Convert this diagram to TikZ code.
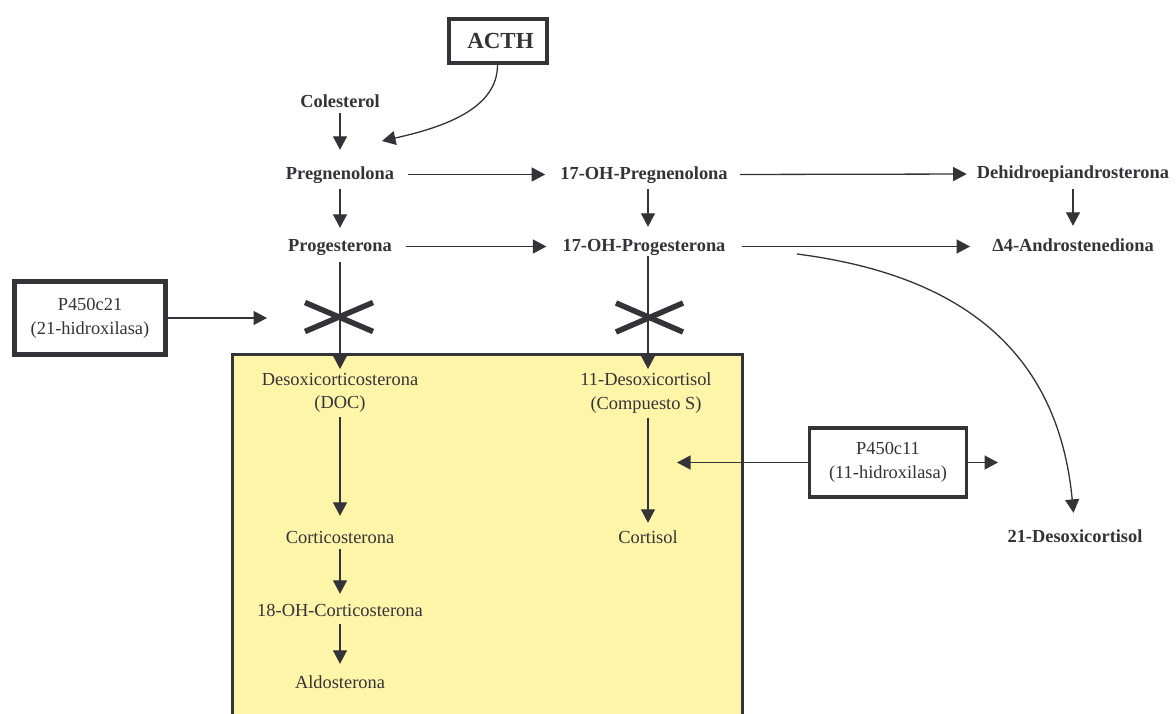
\documentclass[tikz,border=0pt]{standalone}
\usepackage{fontspec}
\setmainfont{Liberation Serif}
\usetikzlibrary{arrows.meta}
\definecolor{ink}{HTML}{333338}
\definecolor{pale}{HTML}{FFF5A8}

\begin{document}
\begin{tikzpicture}[x=1pt,y=-1pt,
  every node/.style={text=ink},
  lbl/.style={inner sep=0pt, text height=13pt, text depth=4pt, anchor=base,
    font=\fontsize{18.4}{23.5}\selectfont},
  blbl/.style={lbl, font=\fontsize{18.4}{23.5}\selectfont\bfseries},
  twoline/.style={inner sep=0pt, align=center, anchor=north,
    font=\fontsize{18.4}{23.5}\selectfont},
  enzbox/.style={draw=ink, fill=white, align=center, inner sep=0pt,
    font=\fontsize{18.4}{24}\selectfont},
  arr/.style={draw=ink, line width=1.3pt, -{Triangle[length=13.5pt,width=14pt]}},
  cross/.style={draw=ink, line width=5.5pt}
]
% canvas
\fill[white] (0,0) rectangle (1176,713);
\useasboundingbox (0,0) rectangle (1176,713);

% adrenal zone (open at the bottom)
\fill[pale] (232,354) rectangle (742,720);
\draw[ink, line width=3pt] (232,720) -- (232,354) -- (742,354) -- (742,720);

% regulators
\node[enzbox, line width=4pt, minimum width=98pt, minimum height=44pt,
  font=\fontsize{23}{28}\selectfont\bfseries] (acth) at (497.5,40.5) {\hspace*{6pt}ACTH};
\node[enzbox, line width=5pt, minimum width=151pt, minimum height=73pt]
  (p21) at (90,318) {P450c21\\(21-hidroxilasa)};
\node[enzbox, line width=3.3pt, minimum width=157pt, minimum height=69pt]
  (p11) at (888,462.5) {P450c11\\(11-hidroxilasa)};

% steroid pathway
\node[blbl] (col) at (340,107) {Colesterol};
\node[blbl] (preg) at (340,179) {Pregnenolona};
\node[blbl] (prog) at (340,251) {Progesterona};
\node[blbl] (ohpreg) at (644,179) {17-OH-Pregnenolona};
\node[blbl] (ohprog) at (644,251) {17-OH-Progesterona};
\node[blbl] (dhea) at (1073,178.5) {Dehidroepiandrosterona};
\node[blbl] (andro) at (1073,251) {Δ4-Androstenediona};
\node[blbl] (desox21) at (1075,542) {21-Desoxicortisol};

\node[twoline] (doc) at (340,373) {Desoxicorticosterona\\(DOC)};
\node[twoline] (cmps) at (646,373) {11-Desoxicortisol\\(Compuesto S)};
\node[lbl] (cort) at (340,543) {Corticosterona};
\node[lbl] (oh18) at (340,616) {18-OH-Corticosterona};
\node[lbl] (aldo) at (340,688) {Aldosterona};
\node[lbl] (cortisol) at (648,543) {Cortisol};

% free arrow ends
\coordinate (actharr) at (382,141);
\coordinate (c21) at (267,318);
\coordinate (c11l) at (677,462.5);
\coordinate (c11r) at (998,462.5);
\coordinate (c17) at (797,254);

% connectors
\draw[arr] (acth.south) .. controls (498,110) and (440,128) .. (actharr);
\draw[arr, shorten <=2pt, shorten >=16pt] (col.south) -- (preg.north);
\draw[arr, shorten <=6pt, shorten >=10pt] (preg.south) -- (prog.north);
\draw[arr, shorten <=6pt, shorten >=11pt] ([xshift=4pt]ohpreg.south) -- ([xshift=4pt]ohprog.north);
\draw[arr, shorten <=6pt, shorten >=12pt] (dhea.south) -- (andro.north);
\draw[arr, shorten <=14pt, shorten >=15pt] (preg.east) -- (ohpreg.west);
\draw[arr, shorten <=12pt, shorten >=10pt] (ohpreg.east) -- (dhea.west);
\draw[arr, shorten <=14pt, shorten >=16pt] (prog.east) -- (ohprog.west);
\draw[arr, shorten <=16pt, shorten >=22pt] (ohprog.east) -- (andro.west);
\draw[arr, shorten <=7pt, shorten >=4pt] (prog.south) -- (doc.north);
\draw[arr, shorten <=1pt, shorten >=4pt] ([xshift=4pt]ohprog.south) -- ([xshift=2pt]cmps.north);
\draw[arr, shorten <=4pt, shorten >=14pt] (doc.south) -- (cort.north);
\draw[arr, shorten <=4pt, shorten >=7pt] ([xshift=2pt]cmps.south) -- (cortisol.north);
\draw[arr, shorten <=2pt, shorten >=9pt] (cort.south) -- (oh18.north);
\draw[arr, shorten <=4pt, shorten >=11pt] (oh18.south) -- (aldo.north);
\draw[arr, shorten >=16pt] (c17) .. controls (960,275) and (1058,350) .. (desox21.north);
\draw[arr] (p21.east) -- (c21);
\draw[arr] (p11.west) -- (c11l);
\draw[arr] (p11.east) -- (c11r);

% blocked steps
\draw[cross] (305,302.5) -- (373,331.5);
\draw[cross] (305,331.5) -- (373,302.5);
\draw[cross] (616,303) -- (683,332);
\draw[cross] (616,332) -- (683,303);
\end{tikzpicture}
\end{document}
